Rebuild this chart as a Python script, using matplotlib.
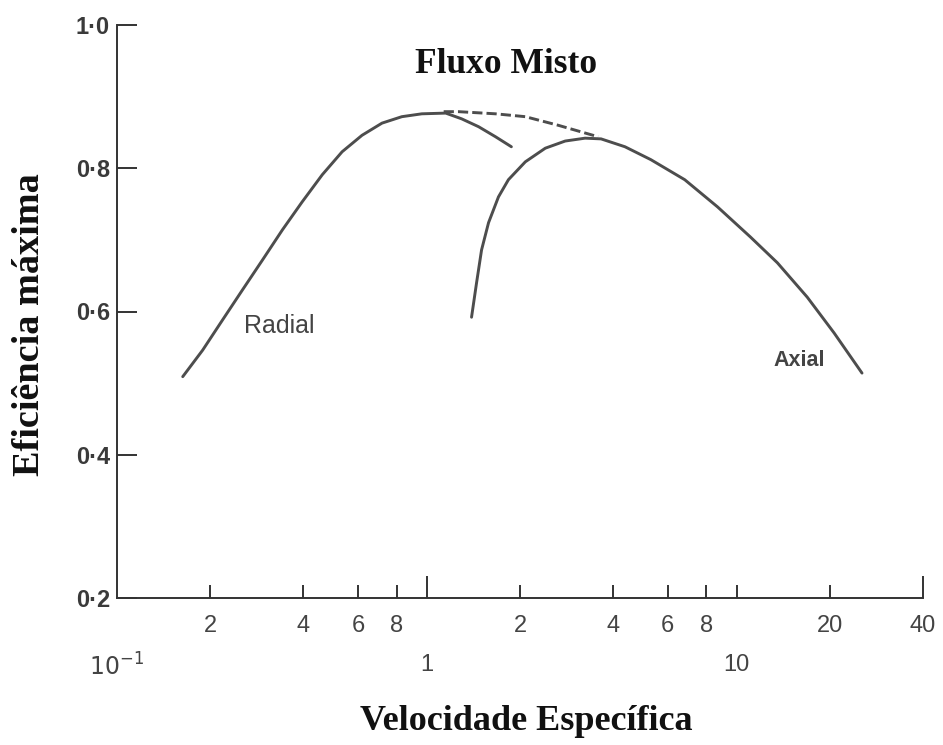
import numpy as np
import matplotlib
matplotlib.use("Agg")
import matplotlib.pyplot as plt
from matplotlib.ticker import FixedLocator, FixedFormatter

# Data
radial_x = [0.163, 0.189, 0.219, 0.254, 0.295, 0.342, 0.396, 0.460, 0.533, 0.618,
            0.717, 0.831, 0.964, 1.151, 1.296, 1.47, 1.667, 1.876]
radial_y = [0.509, 0.546, 0.588, 0.630, 0.672, 0.714, 0.753, 0.791, 0.823, 0.846,
            0.863, 0.872, 0.876, 0.877, 0.869, 0.858, 0.844, 0.830]

axial_x = [1.395, 1.448, 1.503, 1.583, 1.704, 1.835, 2.081, 2.414, 2.799, 3.245,
           3.654, 4.364, 5.290, 6.805, 8.687, 11.09, 13.55, 16.92, 20.66, 25.42]
axial_y = [0.592, 0.640, 0.686, 0.724, 0.760, 0.784, 0.809, 0.828, 0.838, 0.842,
           0.841, 0.830, 0.812, 0.784, 0.746, 0.704, 0.668, 0.620, 0.570, 0.514]

mixed_x = [1.134, 1.268, 1.667, 2.081, 2.657, 3.573]
mixed_y = [0.879, 0.879, 0.876, 0.872, 0.860, 0.844]

y_ticks = [0.2, 0.4, 0.6, 0.8, 1.0]
y_labels = ["0·2", "0·4", "0·6", "0·8", "1·0"]
minor_ticks = [0.2, 0.4, 0.6, 0.8, 2, 4, 6, 8, 20, 40]
minor_labels = ["2", "4", "6", "8", "2", "4", "6", "8", "20", "40"]
major_ticks = [0.1, 1, 10]
major_labels = ["$10^{-1}$", "1", "10"]

title = "Fluxo Misto"
xlabel = "Velocidade Específica"
ylabel = "Eficiência máxima"

line_color = "#4d4d4d"
text_color = "#444444"

W, H = 943, 745
fig = plt.figure(figsize=(W / 100, H / 100), dpi=100)
ax = fig.add_axes([117 / W, 1 - 598 / H, (923 - 117) / W, (598 - 25) / H])

ax.set_xscale("log")
ax.set_xlim(0.1, 40)
ax.set_ylim(0.2, 1.0)

ax.plot(radial_x, radial_y, color=line_color, lw=2.1, solid_capstyle="round",
        solid_joinstyle="round")
ax.plot(axial_x, axial_y, color=line_color, lw=2.1, solid_capstyle="round",
        solid_joinstyle="round")
ax.plot(mixed_x, mixed_y, color=line_color, lw=2.1, dashes=(3.5, 1.4))

for s in ["top", "right"]:
    ax.spines[s].set_visible(False)
for s in ["left", "bottom"]:
    ax.spines[s].set_color("#333333")
    ax.spines[s].set_linewidth(1.4)

ax.xaxis.remove_overlapping_locs = False
ax.xaxis.set_major_locator(FixedLocator(major_ticks))
ax.xaxis.set_major_formatter(FixedFormatter(major_labels))
ax.xaxis.set_minor_locator(FixedLocator(minor_ticks))
ax.xaxis.set_minor_formatter(FixedFormatter(minor_labels))
ax.tick_params(axis="x", which="major", direction="in", length=16, width=1.4,
               pad=40, labelsize=17, colors="#333333", labelcolor=text_color)
ax.tick_params(axis="x", which="minor", direction="in", length=9.5, width=1.4,
               pad=12, labelsize=17, colors="#333333", labelcolor=text_color)
# decade tick at 10 is short in the original, the one at 0.1 is hidden by the spine
for t, v in zip(ax.xaxis.get_major_ticks(), major_ticks):
    if v == 0.1:
        t.tick1line.set_markersize(0)
    elif v == 10:
        t.tick1line.set_markersize(9.5)
for t, v in zip(ax.xaxis.get_minor_ticks(), minor_ticks):
    if v == 40:
        t.tick1line.set_markersize(16)

ax.set_yticks(y_ticks)
ax.set_yticklabels(y_labels)
ax.tick_params(axis="y", which="major", direction="in", length=14.5, width=1.4,
               pad=5, labelsize=17, colors="#333333", labelcolor="#3a3a3a")
ax.tick_params(axis="y", which="minor", left=False)
for lab in ax.get_xticklabels(minor=True) + ax.get_xticklabels():
    lab.set_family("Liberation Sans")
for lab in ax.get_yticklabels():
    lab.set_family("Liberation Sans")
    lab.set_fontweight("bold")

ax.text(0.334, 0.580, "Radial", fontsize=18, family="Liberation Sans", color=text_color,
        ha="center", va="center")
ax.text(15.94, 0.532, "Axial", fontsize=15.5, family="Liberation Sans", color=text_color,
        ha="center", va="center", fontweight="bold")

fig.text(506 / W, 1 - 73 / H, title, fontsize=25.5, family="Liberation Serif",
         fontweight="bold", ha="center", va="baseline", color="#111111")
fig.text(360 / W, 1 - 730 / H, xlabel, fontsize=26, family="Liberation Serif",
         fontweight="bold", ha="left", va="baseline", color="#111111")
fig.text(30 / W, 1 - 325 / H, ylabel, fontsize=27.5, family="Liberation Serif",
         fontweight="bold", ha="center", va="center", rotation=90, color="#111111")

fig.savefig("out.png", dpi=100, facecolor="white")
